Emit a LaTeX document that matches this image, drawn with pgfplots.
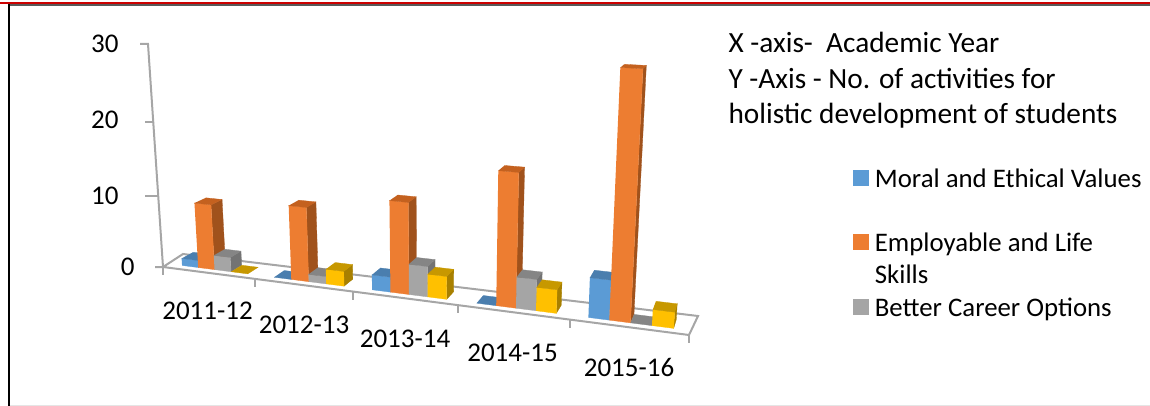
\documentclass[border=0pt]{standalone}
\usepackage{fontspec}
\setmainfont{Carlito}
\usepackage{pgfplots}
\usepackage{pgfplotstable}
\pgfplotsset{compat=1.18}

\definecolor{blueF}{HTML}{5B9BD5}\definecolor{blueT}{HTML}{4A7EAE}\definecolor{blueS}{HTML}{3F6D97}
\definecolor{orangeF}{HTML}{ED7D31}\definecolor{orangeT}{HTML}{C4611F}\definecolor{orangeS}{HTML}{A0521C}
\definecolor{grayF}{HTML}{A5A5A5}\definecolor{grayT}{HTML}{858585}\definecolor{grayS}{HTML}{737373}
\definecolor{yellowF}{HTML}{FFC000}\definecolor{yellowT}{HTML}{C79800}\definecolor{yellowS}{HTML}{A88000}
\definecolor{axisgray}{HTML}{A6A6A6}

% activities per academic year
\pgfplotstableread{
year moral employ career other
0 1 9 2 0
1 0 10 1 2
2 2 12 4 3
3 0 17 4 3
4 5 30 0 2
}\activities

% perspective of the 3D chart: category t, depth d, value z -> picture position
\newcommand\proj[3]{%
  \pgfmathsetmacro\pw{1-0.0304*#1+0.0378*#2-0.001735*#3}%
  \pgfmathsetmacro\pu{(163+84.2*#1+30*#2-0.756*#3)/\pw}%
  \pgfmathsetmacro\pv{(267+3.416*#1-2.9*#2-7.51*#3)/\pw}%
  \edef\pxy{(\pu,\pv)}}
\newcommand\face[5]{%
  \proj#2\edef\pa{\pxy}\proj#3\edef\pb{\pxy}\proj#4\edef\pc{\pxy}\proj#5\edef\pd{\pxy}%
  \edef\tmp{\noexpand\addplot[fill=#1,draw=#1,line width=0.3pt,forget plot] coordinates {\pa\pb\pc\pd};}\tmp}
% bar: row, slot in the cluster, column, colour prefix
\newcommand\drawbar[4]{%
  \pgfplotstablegetelem{#1}{#3}\of\activities
  \let\val\pgfplotsretval
  \pgfmathsetmacro\ta{#1+0.148+#2*0.18}%
  \pgfmathsetmacro\tb{\ta+0.18}%
  \pgfmathparse{\val>0?1:0}%
  \ifnum\pgfmathresult=1
    \face{#4S}{{\tb}{0.25}{0}}{{\tb}{0.75}{0}}{{\tb}{0.75}{\val}}{{\tb}{0.25}{\val}}%
    \face{#4F}{{\ta}{0.25}{0}}{{\tb}{0.25}{0}}{{\tb}{0.25}{\val}}{{\ta}{0.25}{\val}}%
  \fi
  \face{#4T}{{\ta}{0.25}{\val}}{{\tb}{0.25}{\val}}{{\tb}{0.75}{\val}}{{\ta}{0.75}{\val}}}

\begin{document}
\begin{tikzpicture}
\path[use as bounding box] (0,0) rectangle (1150pt,406pt);
\begin{axis}[
  at={(0,0)}, anchor=south west,
  scale only axis, width=1150pt, height=406pt,
  xmin=0, xmax=1150, ymin=0, ymax=406, y dir=reverse,
  hide axis, clip=false,
  legend style={
    at={(axis cs:853,167)}, anchor=north west, draw=none, fill=none,
    inner sep=0pt, outer sep=0pt, row sep=0pt, column sep=6.5pt,
    nodes={inner sep=0pt, outer sep=0pt, text height=20pt, text depth=12.25pt},
    font=\fontsize{26.8}{32}\selectfont,
  },
  legend cell align=left,
  legend image code/.code={\fill[#1] (0pt,-2pt) rectangle (15pt,13pt);},
]
% page frame
\addplot[draw=white!35!black,line width=1.2pt,forget plot] coordinates {(9,5) (1150,5)};
\addplot[draw=red!80!black,line width=2.4pt,forget plot] coordinates {(0,3) (1150,3)};
\addplot[draw=black,line width=2.2pt,forget plot] coordinates {(9,4) (9,406)};
\addplot[draw=black!10,line width=1pt,forget plot] coordinates {(10,405.5) (1150,405.5)};

% floor and value axis
\addplot[draw=axisgray,line width=2pt,forget plot] coordinates {(163,267) (689,335) (698,316) (183,254) (163,267)};
\addplot[draw=axisgray,line width=2pt,forget plot] coordinates {(140,44) (148,44) (163,267) (155,267)};
\addplot[draw=axisgray,line width=2pt,forget plot] coordinates {(145,196) (158,196)};
\addplot[draw=axisgray,line width=2pt,forget plot] coordinates {(145,122) (153,122)};
\addplot[draw=axisgray,line width=2pt,forget plot] coordinates {(163,267) (163,275)};
\addplot[draw=axisgray,line width=2pt,forget plot] coordinates {(255,279) (255,287)};
\addplot[draw=axisgray,line width=2pt,forget plot] coordinates {(353,292) (353,300)};
\addplot[draw=axisgray,line width=2pt,forget plot] coordinates {(458,305) (458,313)};
\addplot[draw=axisgray,line width=2pt,forget plot] coordinates {(570,320) (570,328)};
\addplot[draw=axisgray,line width=2pt,forget plot] coordinates {(689,335) (689,343)};

% bars, left to right so that each one covers the side of the one before
\foreach \c in {0,...,4} {
  \drawbar{\c}{0}{moral}{blue}
  \drawbar{\c}{1}{employ}{orange}
  \drawbar{\c}{2}{career}{gray}
  \drawbar{\c}{3}{other}{yellow}
}

\addlegendimage{blueF}
\addlegendentry{Moral and Ethical Values}
\addlegendimage{empty legend}
\addlegendentry{}
\addlegendimage{orangeF}
\addlegendentry{Employable and Life}
\addlegendimage{empty legend}
\addlegendentry{Skills}
\addlegendimage{grayF}
\addlegendentry{Better Career Options}

\def\lab{\fontsize{27}{30}\selectfont}
\def\head{\fontsize{29.3}{30}\selectfont}
\node[anchor=east,font=\lab] at (axis cs:122,44) {30};
\node[anchor=east,font=\lab] at (axis cs:122,120) {20};
\node[anchor=east,font=\lab] at (axis cs:122,196) {10};
\node[anchor=east,font=\lab] at (axis cs:138,267) {0};
\node[font=\lab] at (axis cs:207.5,311) {2011-12};
\node[font=\lab] at (axis cs:304,325) {2012-13};
\node[font=\lab] at (axis cs:405,339) {2013-14};
\node[font=\lab] at (axis cs:512.5,353) {2014-15};
\node[font=\lab] at (axis cs:629,367) {2015-16};
\node[anchor=base west,font=\head] at (axis cs:725,52.5) {X -axis-\ \ Academic Year};
\node[anchor=base west,font=\head] at (axis cs:725,88.5) {Y -Axis - No. of activities for};
\node[anchor=base west,font=\head] at (axis cs:725,124) {holistic development of students};
\end{axis}
\end{tikzpicture}
\end{document}
